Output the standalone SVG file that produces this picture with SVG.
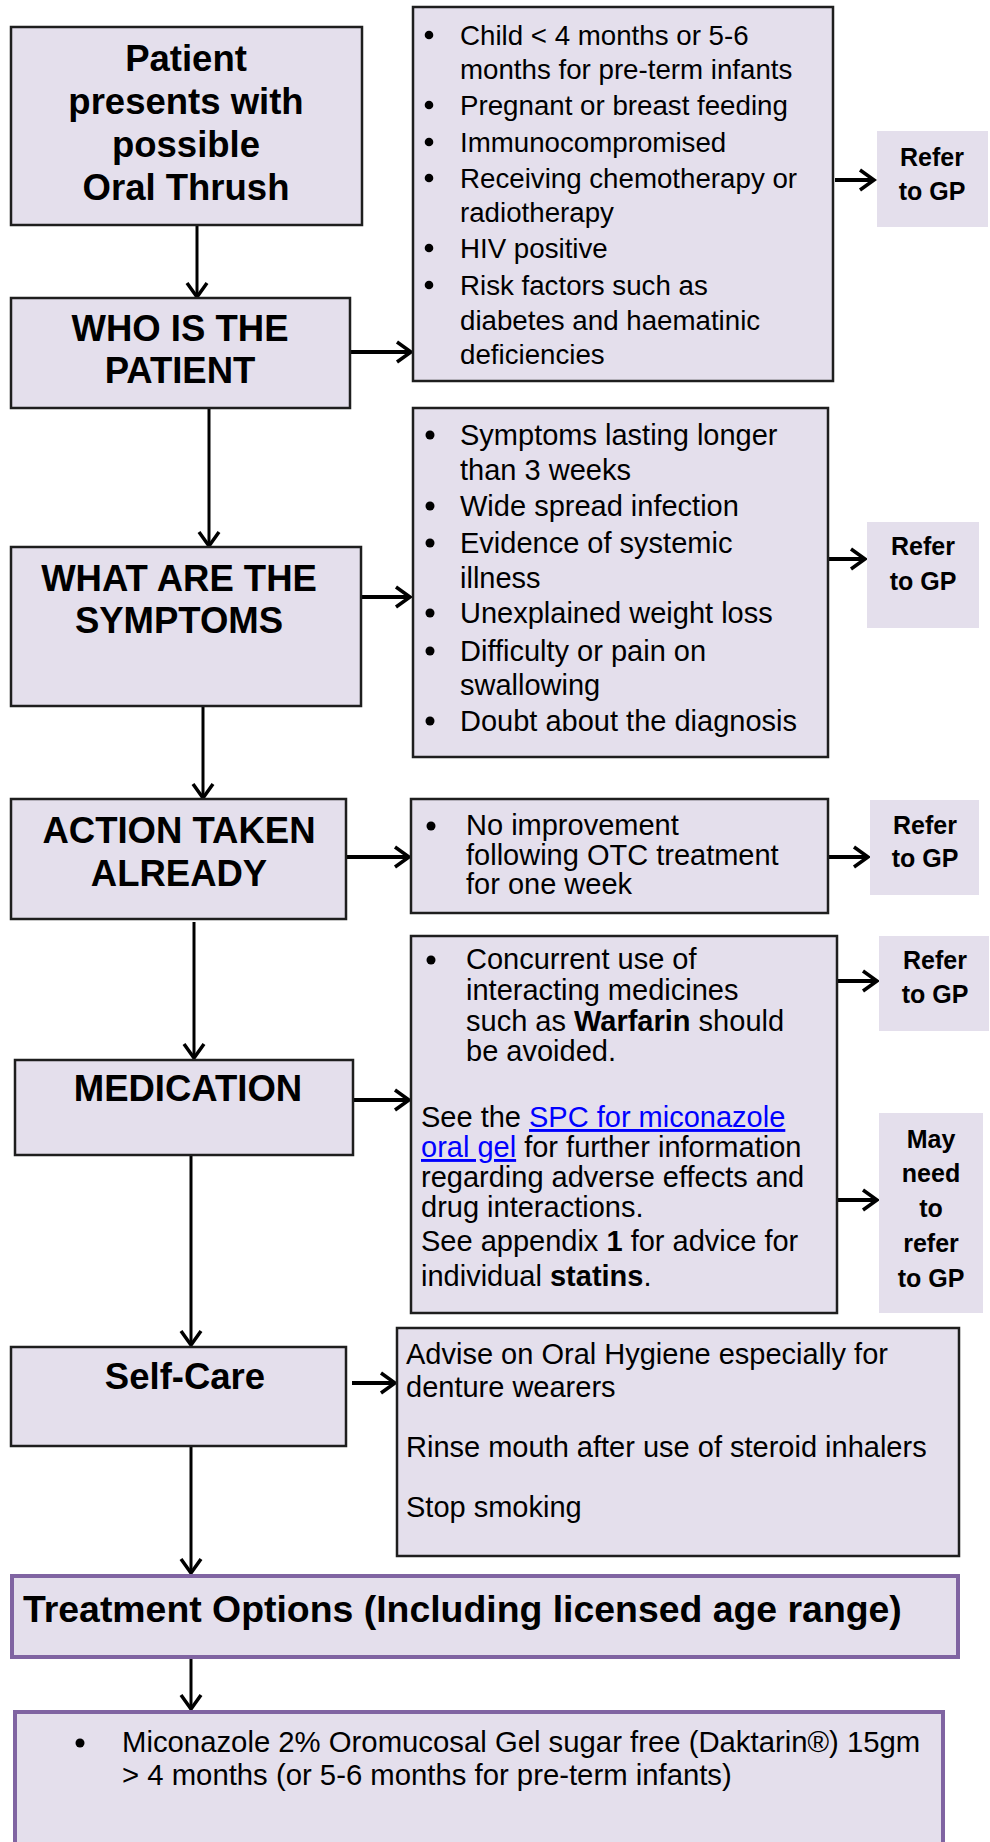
<svg xmlns="http://www.w3.org/2000/svg" width="990" height="1842" viewBox="0 0 990 1842">
<style>
.box{fill:#E4DFEC;stroke:#1e1e1e;stroke-width:2.5}
.ref{fill:#E4DFEC;stroke:none}
.pbox{fill:#E4DFEC;stroke:#8064A2;stroke-width:4}
.t{font-family:"Liberation Sans",Arial,sans-serif;font-weight:bold;font-size:36.5px;fill:#000;text-anchor:middle}
.r{font-family:"Liberation Sans",Arial,sans-serif;font-weight:bold;font-size:25px;fill:#000;text-anchor:middle}
.l{font-family:"Liberation Sans",Arial,sans-serif;font-size:29px;fill:#000}
.l1{font-size:27.7px}
.b{font-weight:bold}
.lnk{fill:#0000FF;text-decoration:underline}
.v{fill:none;stroke:#000;stroke-width:3;marker-end:url(#ah)}
.h{fill:none;stroke:#000;stroke-width:4;marker-end:url(#ah)}
.dot{fill:#000}
</style>
<defs>
<marker id="ah" viewBox="0 0 20 24" refX="17" refY="12" markerWidth="20" markerHeight="24" markerUnits="userSpaceOnUse" orient="auto">
<path d="M3,2 L17,12 L3,22" fill="none" stroke="#000" stroke-width="3.5"/>
</marker>
</defs>
<rect width="990" height="1842" fill="#fff"/>

<g id="connectors">
<path class="v" d="M197,225 V297"/>
<path class="h" d="M350,352 H411"/>
<path class="h" d="M835,180 H874"/>
<path class="v" d="M209,408 V546"/>
<path class="h" d="M361,597 H410"/>
<path class="h" d="M829,559 H865"/>
<path class="v" d="M203,706 V798"/>
<path class="h" d="M346,857 H409"/>
<path class="h" d="M828,857 H868"/>
<path class="v" d="M194,922 V1058"/>
<path class="h" d="M353,1100 H409"/>
<path class="h" d="M837,981 H877"/>
<path class="h" d="M837,1200 H877"/>
<path class="v" d="M191,1155 V1345"/>
<path class="h" d="M352,1383 H395"/>
<path class="v" d="M191,1446 V1573"/>
<path class="v" d="M191,1658 V1709"/>
</g>

<g id="start">
<rect class="box" x="11" y="27" width="351" height="198"/>
<text class="t" x="186" y="71">Patient</text>
<text class="t" x="186" y="114">presents with</text>
<text class="t" x="186" y="157">possible</text>
<text class="t" x="186" y="200">Oral Thrush</text>
</g>

<g id="who">
<rect class="box" x="11" y="298" width="339" height="110"/>
<text class="t" x="180" y="341">WHO IS THE</text>
<text class="t" x="180" y="383">PATIENT</text>
</g>

<g id="who-list">
<rect class="box" x="413" y="7" width="420" height="374"/>
<g class="l l1">
<circle class="dot" cx="429" cy="35" r="4.3"/>
<text x="460" y="45">Child &lt; 4 months or 5-6</text>
<text x="460" y="79">months for pre-term infants</text>
<circle class="dot" cx="429" cy="105" r="4.3"/>
<text x="460" y="115">Pregnant or breast feeding</text>
<circle class="dot" cx="429" cy="142" r="4.3"/>
<text x="460" y="152">Immunocompromised</text>
<circle class="dot" cx="429" cy="178" r="4.3"/>
<text x="460" y="188">Receiving chemotherapy or</text>
<text x="460" y="222">radiotherapy</text>
<circle class="dot" cx="429" cy="248" r="4.3"/>
<text x="460" y="258">HIV positive</text>
<circle class="dot" cx="429" cy="285" r="4.3"/>
<text x="460" y="295">Risk factors such as</text>
<text x="460" y="330">diabetes and haematinic</text>
<text x="460" y="364">deficiencies</text>
</g>
</g>

<g id="refer1">
<rect class="ref" x="877" y="131" width="111" height="96"/>
<text class="r" x="932" y="166">Refer</text>
<text class="r" x="932" y="200">to GP</text>
</g>

<g id="what">
<rect class="box" x="11" y="547" width="350" height="159"/>
<text class="t" x="179" y="591">WHAT ARE THE</text>
<text class="t" x="179" y="633">SYMPTOMS</text>
</g>

<g id="what-list">
<rect class="box" x="413" y="408" width="415" height="349"/>
<g class="l">
<circle class="dot" cx="430" cy="435" r="4.5"/>
<text x="460" y="445">Symptoms lasting longer</text>
<text x="460" y="480">than 3 weeks</text>
<circle class="dot" cx="430" cy="506" r="4.5"/>
<text x="460" y="516">Wide spread infection</text>
<circle class="dot" cx="430" cy="543" r="4.5"/>
<text x="460" y="553">Evidence of systemic</text>
<text x="460" y="588">illness</text>
<circle class="dot" cx="430" cy="613" r="4.5"/>
<text x="460" y="623">Unexplained weight loss</text>
<circle class="dot" cx="430" cy="651" r="4.5"/>
<text x="460" y="661">Difficulty or pain on</text>
<text x="460" y="695">swallowing</text>
<circle class="dot" cx="430" cy="721" r="4.5"/>
<text x="460" y="731">Doubt about the diagnosis</text>
</g>
</g>

<g id="refer2">
<rect class="ref" x="867" y="522" width="112" height="106"/>
<text class="r" x="923" y="555">Refer</text>
<text class="r" x="923" y="590">to GP</text>
</g>

<g id="action">
<rect class="box" x="11" y="799" width="335" height="120"/>
<text class="t" x="179" y="843">ACTION TAKEN</text>
<text class="t" x="179" y="886">ALREADY</text>
</g>

<g id="action-list">
<rect class="box" x="411" y="799" width="417" height="114"/>
<g class="l">
<circle class="dot" cx="431" cy="826" r="4.5"/>
<text x="466" y="835">No improvement</text>
<text x="466" y="865">following OTC treatment</text>
<text x="466" y="894">for one week</text>
</g>
</g>

<g id="refer3">
<rect class="ref" x="870" y="800" width="109" height="95"/>
<text class="r" x="925" y="834">Refer</text>
<text class="r" x="925" y="867">to GP</text>
</g>

<g id="medication">
<rect class="box" x="15" y="1060" width="338" height="95"/>
<text class="t" x="188" y="1101">MEDICATION</text>
</g>

<g id="medication-list">
<rect class="box" x="411" y="936" width="426" height="377"/>
<g class="l">
<circle class="dot" cx="431" cy="960" r="4.5"/>
<text x="466" y="969">Concurrent use of</text>
<text x="466" y="1000">interacting medicines</text>
<text x="466" y="1031">such as <tspan class="b">Warfarin</tspan> should</text>
<text x="466" y="1061">be avoided.</text>
<text x="421" y="1127">See the <tspan class="lnk">SPC for miconazole</tspan></text>
<text x="421" y="1157"><tspan class="lnk">oral gel</tspan> for further information</text>
<text x="421" y="1187">regarding adverse effects and</text>
<text x="421" y="1217">drug interactions.</text>
<text x="421" y="1251">See appendix <tspan class="b">1</tspan> for advice for</text>
<text x="421" y="1286">individual <tspan class="b">statins</tspan>.</text>
</g>
</g>

<g id="refer4">
<rect class="ref" x="879" y="936" width="110" height="95"/>
<text class="r" x="935" y="969">Refer</text>
<text class="r" x="935" y="1003">to GP</text>
</g>

<g id="may-refer">
<rect class="ref" x="879" y="1113" width="104" height="200"/>
<text class="r" x="931" y="1148">May</text>
<text class="r" x="931" y="1182">need</text>
<text class="r" x="931" y="1217">to</text>
<text class="r" x="931" y="1252">refer</text>
<text class="r" x="931" y="1287">to GP</text>
</g>

<g id="selfcare">
<rect class="box" x="11" y="1347" width="335" height="99"/>
<text class="t" x="185" y="1389">Self-Care</text>
</g>

<g id="selfcare-list">
<rect class="box" x="397" y="1328" width="562" height="228"/>
<g class="l">
<text x="406" y="1364">Advise on Oral Hygiene especially for</text>
<text x="406" y="1397">denture wearers</text>
<text x="406" y="1457">Rinse mouth after use of steroid inhalers</text>
<text x="406" y="1517">Stop smoking</text>
</g>
</g>

<g id="treatment">
<rect class="pbox" x="12" y="1576" width="946" height="81"/>
<text class="t" x="23" y="1622" style="text-anchor:start;font-size:37.4px">Treatment Options (Including licensed age range)</text>
</g>

<g id="treatment-list">
<rect class="pbox" x="15" y="1712" width="928" height="150"/>
<g class="l" style="font-size:29.3px">
<circle class="dot" cx="80" cy="1743" r="4.5"/>
<text x="122" y="1752">Miconazole 2% Oromucosal Gel sugar free (Daktarin®) 15gm</text>
<text x="122" y="1785">&gt; 4 months (or 5-6 months for pre-term infants)</text>
</g>
</g>
</svg>
